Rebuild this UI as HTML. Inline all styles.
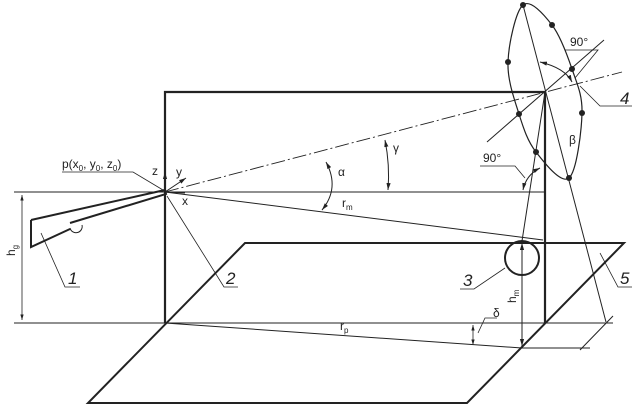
<!DOCTYPE html><html><head><style>body{margin:0;background:#fff}svg{display:block}text{font-family:"Liberation Sans",sans-serif;fill:#222}</style></head><body>
<svg width="637" height="408" viewBox="0 0 637 408" xmlns="http://www.w3.org/2000/svg">
<defs><marker id="a" viewBox="0 0 10 10" refX="10" refY="5" markerWidth="7" markerHeight="7" orient="auto-start-reverse"><path d="M0,2L10,5L0,8z" fill="#222"/></marker></defs>
<g stroke="#222" fill="none">
<line x1="14" y1="192" x2="545" y2="192" stroke-width="1"/>
<line x1="14" y1="323" x2="545" y2="323" stroke-width="1"/>
<line x1="545" y1="323" x2="613" y2="323" stroke-width="1"/>
<path d="M165,323V92H545V323" stroke-width="2.2"/>
<path d="M245,243H624L467,403H88Z" stroke-width="2"/>
<line x1="22" y1="195" x2="22" y2="320" stroke-width="0.8" marker-start="url(#a)" marker-end="url(#a)"/>
<path d="M31,220L165,190L166,194L70,223M31,220V247L70,229" stroke-width="2"/>
<path d="M70,228a6,6 0 1 0 12,-3" stroke-width="1"/>
<line x1="165" y1="192" x2="622" y2="72" stroke-width="0.9" stroke-dasharray="14,3,2,3"/>
<line x1="165" y1="192" x2="165" y2="172" stroke-width="1" marker-end="url(#a)"/>
<line x1="165" y1="192" x2="186" y2="178" stroke-width="1" marker-end="url(#a)"/>
<line x1="165" y1="192" x2="185" y2="193" stroke-width="1"/>
<line x1="165" y1="192" x2="543" y2="240" stroke-width="1"/>
<line x1="165" y1="323" x2="522" y2="348" stroke-width="1"/>
<line x1="522" y1="348" x2="590" y2="348" stroke-width="1"/>
<line x1="522" y1="243" x2="522" y2="346" stroke-width="1" marker-start="url(#a)" marker-end="url(#a)"/>
<circle cx="522" cy="258" r="17" stroke-width="2"/>
<path d="M523,5C530.3,-1.2 543.8,14.3 552,25C560.2,35.7 567,54.3 572,69C577,83.7 582.5,94.8 582,113C581.5,131.2 576.7,171.5 569,178C561.3,184.5 544.3,162.7 536,152C527.7,141.3 523.7,129 519,114C514.3,99 507.3,80.2 508,62C508.7,43.8 515.7,11.2 523,5Z" stroke-width="1.2"/>
<line x1="523" y1="5" x2="606" y2="322" stroke-width="1"/>
<line x1="487" y1="142" x2="604" y2="40" stroke-width="1"/>
<line x1="545" y1="92" x2="522" y2="241" stroke-width="1"/>
<line x1="580" y1="350" x2="613" y2="316" stroke-width="1"/>
<path d="M326,162Q340,188 322,210" stroke-width="1" marker-start="url(#a)" marker-end="url(#a)"/>
<path d="M385,140Q390,165 388,190" stroke-width="1" marker-start="url(#a)" marker-end="url(#a)"/>
<path d="M540,62Q565,68 572,82" stroke-width="1" marker-start="url(#a)" marker-end="url(#a)"/>
<path d="M523,190Q526,175 540,168" stroke-width="1" marker-start="url(#a)" marker-end="url(#a)"/>
<line x1="473" y1="325" x2="473" y2="345" stroke-width="0.8" marker-start="url(#a)" marker-end="url(#a)"/>
<g stroke-width="0.8">
<path d="M62,172H133L163,190"/>
<path d="M80,287H65L41,233"/>
<path d="M238,287H224L167,196"/>
<path d="M460,289H474L505,268"/>
<path d="M632,287H618L600,253"/>
<path d="M632,106H600L580,86"/>
<path d="M565,50H598L575,78"/>
<path d="M480,166H515L525,178"/>
<path d="M497,318H485L478,333"/>
</g>
</g>
<g fill="#222">
<circle cx="523" cy="5" r="3"/><circle cx="552" cy="25" r="3"/><circle cx="508" cy="62" r="3"/><circle cx="572" cy="69" r="3"/><circle cx="519" cy="114" r="3"/><circle cx="582" cy="113" r="3"/><circle cx="536" cy="152" r="3"/><circle cx="569" cy="178" r="3"/>
</g>
<g font-size="12">
<text x="62" y="168">p(x<tspan font-size="8" dy="3">0</tspan><tspan dy="-3">, y</tspan><tspan font-size="8" dy="3">0</tspan><tspan dy="-3">, z</tspan><tspan font-size="8" dy="3">0</tspan><tspan dy="-3">)</tspan></text>
<text x="152" y="175">z</text><text x="176" y="176">y</text><text x="182" y="205">x</text>
<text x="338" y="176">α</text><text x="393" y="152">γ</text>
<text x="342" y="207">r<tspan font-size="8" dy="3">m</tspan></text>
<text x="340" y="330">r<tspan font-size="8" dy="3">p</tspan></text>
<text x="569" y="144">β</text><text x="493" y="317">δ</text>
<text x="570" y="46">90°</text><text x="483" y="162">90°</text>
<text transform="translate(15,256) rotate(-90)">h<tspan font-size="8" dy="3">g</tspan></text>
<text transform="translate(516,303) rotate(-90)">h<tspan font-size="8" dy="3">m</tspan></text>
</g>
<g font-size="17" font-style="italic">
<text x="68" y="284">1</text><text x="226" y="284">2</text><text x="463" y="286">3</text><text x="620" y="104">4</text><text x="620" y="284">5</text>
</g>
</svg></body></html>
